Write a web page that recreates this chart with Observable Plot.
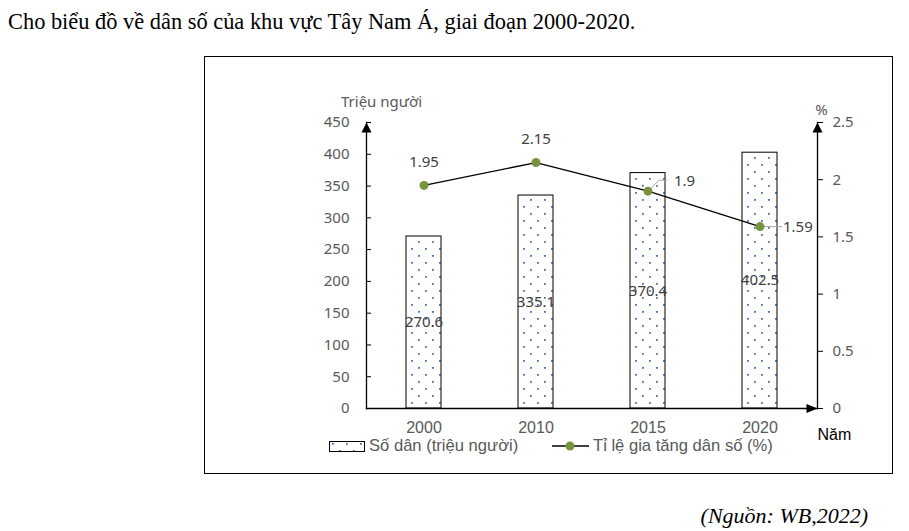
<!DOCTYPE html>
<html>
<head>
<meta charset="utf-8">
<script src="https://cdn.jsdelivr.net/npm/d3@7"></script>
<script src="https://cdn.jsdelivr.net/npm/@observablehq/plot@0.6"></script>
<style>
  body { margin: 0; background: #fff; width: 909px; height: 531px; position: relative; overflow: hidden; }
  #title { position: absolute; left: 8px; top: 9px; font: 22.4px "Liberation Serif", "Times New Roman", serif; color: #000; white-space: nowrap; }
  #frame { position: absolute; left: 204px; top: 56px; width: 687px; height: 416px; border: 1px solid #000; }
  #chart { position: absolute; left: 0; top: 0; }
  .lg { position: absolute; font: 16.6px "Liberation Sans", Arial, sans-serif; color: #595959; white-space: nowrap; line-height: 18px; }
  #caption { position: absolute; right: 41px; top: 503px; font: italic 22px "Liberation Serif", "Times New Roman", serif; color: #000; white-space: nowrap; }
</style>
</head>
<body>
<div id="title">Cho biểu đồ về dân số của khu vực Tây Nam Á, giai đoạn 2000-2020.</div>
<div id="frame">
  <div id="chart"></div>
  <svg style="position:absolute; left:124px; top:384px" width="36" height="11">
    <defs>
      <pattern id="lgdots" width="14" height="14" patternUnits="userSpaceOnUse">
        <rect width="14" height="14" fill="#fff"></rect>
        <rect x="3" y="2" width="1.8" height="1.8" fill="#4472c4"></rect>
        <rect x="10" y="9" width="1.8" height="1.8" fill="#4472c4"></rect>
      </pattern>
    </defs>
    <rect x="0.5" y="0.5" width="35" height="10" fill="url(#lgdots)" stroke="#000" stroke-width="1"></rect>
  </svg>
  <div class="lg" style="left:164px; top:380px">Số dân (triệu người)</div>
  <svg style="position:absolute; left:347px; top:383px" width="38" height="12">
    <line x1="0" y1="6" x2="37" y2="6" stroke="#000" stroke-width="1.3"></line>
    <circle cx="18" cy="6" r="4.5" fill="#77933c"></circle>
  </svg>
  <div class="lg" style="left:388px; top:380px">Tỉ lệ gia tăng dân số (%)</div>
</div>
<div id="caption">(Nguồn: WB,2022)</div>
<script>
const years = ["2000", "2010", "2015", "2020"];
const population = [270.6, 335.1, 370.4, 402.5];
const growthRate = [1.95, 2.15, 1.9, 1.59];
const leftTicks = [0, 50, 100, 150, 200, 250, 300, 350, 400, 450];
const rightTicks = [0, 0.5, 1, 1.5, 2, 2.5];

const popMax = 450, rateMax = 2.5, k = popMax / rateMax;
const rows = years.map((year, i) => ({year, pop: population[i], rate: growthRate[i], i}));

const calibri = "'Noto Sans', 'Open Sans', sans-serif";
const arial = "'Liberation Sans', Arial, sans-serif";

const arrowUp = {draw(ctx) { ctx.moveTo(0, 0); ctx.lineTo(5, 10); ctx.lineTo(-5, 10); ctx.closePath(); }};
const arrowRight = {draw(ctx) { ctx.moveTo(0, 0); ctx.lineTo(-11, -4.5); ctx.lineTo(-11, 4.5); ctx.closePath(); }};
const leaderUpRight = {draw(ctx) { ctx.moveTo(3, -3); ctx.lineTo(11, -11); ctx.lineTo(19, -11); }};
const leaderRight = {draw(ctx) { ctx.moveTo(4, 0); ctx.lineTo(22, 0); }};

const chart = Plot.plot({
  width: 687,
  height: 416,
  marginLeft: 161,
  marginRight: 75,
  marginTop: 65,
  marginBottom: 65,
  style: {background: "transparent", overflow: "visible"},
  x: {domain: years, paddingInner: 0.69, paddingOuter: 0.345, axis: null},
  y: {domain: [0, popMax]},
  marks: [
    Plot.barY(rows, {x: "year", y: "pop", fill: "url(#dots)", stroke: "#000", strokeWidth: 1}),
    Plot.text(rows, {x: "year", y: d => d.pop / 2, text: d => d.pop.toFixed(1), fill: "#404040", fontSize: 15, fontFamily: calibri}),
    Plot.axisY({anchor: "left", ticks: leftTicks, tickSize: -5, tickFormat: () => "", label: null, stroke: "#000"}),
    Plot.axisY({anchor: "right", ticks: rightTicks.map(v => v * k), tickSize: 5, tickFormat: () => "", label: null, stroke: "#000"}),
    Plot.text(leftTicks, {y: d => d, frameAnchor: "left", dx: -17, textAnchor: "end", fill: "#595959", fontSize: 15, fontFamily: calibri}),
    Plot.text(rightTicks, {y: d => d * k, text: d => String(d), frameAnchor: "right", dx: 15, textAnchor: "start", fill: "#595959", fontSize: 15, fontFamily: calibri}),
    Plot.frame({anchor: "left", stroke: "#000", strokeWidth: 1.3}),
    Plot.frame({anchor: "right", stroke: "#000", strokeWidth: 1.3}),
    Plot.frame({anchor: "bottom", stroke: "#000", strokeWidth: 1.3}),
    Plot.dot([0], {frameAnchor: "top-left", symbol: arrowUp, fill: "#000", stroke: null}),
    Plot.dot([0], {frameAnchor: "top-right", symbol: arrowUp, fill: "#000", stroke: null}),
    Plot.dot([0], {frameAnchor: "bottom-right", symbol: arrowRight, fill: "#000", stroke: null}),
    Plot.text(years, {x: d => d, frameAnchor: "bottom", dy: 24, fill: "#595959", fontSize: 16, fontFamily: arial}),
    Plot.text(["Năm"], {frameAnchor: "bottom-right", dy: 31, textAnchor: "start", fill: "#000", fontSize: 16, fontFamily: arial}),
    Plot.text(["Triệu người"], {frameAnchor: "top-left", dx: 15, dy: -26, textAnchor: "middle", fill: "#595959", fontSize: 15, fontFamily: calibri}),
    Plot.text(["%"], {frameAnchor: "top-right", dx: 4, dy: -18, textAnchor: "middle", fill: "#595959", fontSize: 15, fontFamily: calibri}),
    Plot.line(rows, {x: "year", y: d => d.rate * k, stroke: "#000", strokeWidth: 1.3}),
    Plot.dot(rows.filter(d => d.i === 2), {x: "year", y: d => d.rate * k, symbol: leaderUpRight, fill: "none", stroke: "#a6a6a6", strokeWidth: 1}),
    Plot.dot(rows.filter(d => d.i === 3), {x: "year", y: d => d.rate * k, symbol: leaderRight, fill: "none", stroke: "#a6a6a6", strokeWidth: 1}),
    Plot.dot(rows, {x: "year", y: d => d.rate * k, r: 4.5, fill: "#77933c", stroke: null}),
    Plot.text(rows.filter(d => d.i < 2), {x: "year", y: d => d.rate * k, text: d => String(d.rate), dy: -23, fill: "#404040", fontSize: 15, fontFamily: calibri}),
    Plot.text(rows.filter(d => d.i === 2), {x: "year", y: d => d.rate * k, text: d => String(d.rate), dx: 26, dy: -10, textAnchor: "start", fill: "#404040", fontSize: 15, fontFamily: calibri}),
    Plot.text(rows.filter(d => d.i === 3), {x: "year", y: d => d.rate * k, text: d => String(d.rate), dx: 23, dy: 1, textAnchor: "start", fill: "#404040", fontSize: 15, fontFamily: calibri})
  ]
});

const ns = "http://www.w3.org/2000/svg";
const defs = document.createElementNS(ns, "defs");
defs.innerHTML = `<pattern id="dots" width="14" height="14" patternUnits="userSpaceOnUse">
  <rect width="14" height="14" fill="#fff"></rect>
  <rect x="3" y="2" width="1.8" height="1.8" fill="#4472c4"></rect>
  <rect x="10" y="9" width="1.8" height="1.8" fill="#4472c4"></rect>
</pattern>`;
chart.insertBefore(defs, chart.firstChild);
document.getElementById("chart").appendChild(chart);
</script>
</body>
</html>
